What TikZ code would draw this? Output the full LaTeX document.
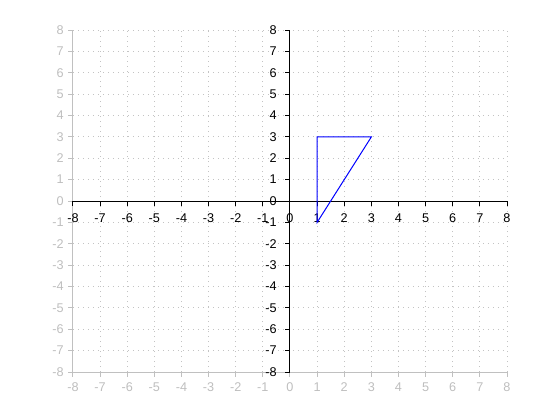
\documentclass[tikz,border=0pt]{standalone}
\usepackage{fontspec}
\setmainfont{Liberation Sans}
\definecolor{gridgray}{RGB}{195,195,195}
\definecolor{axgray}{RGB}{192,192,192}
\definecolor{lblgray}{RGB}{190,190,190}
\definecolor{plotblue}{RGB}{0,0,255}
\begin{document}
\begin{tikzpicture}[x=20.344pt,y=16.031pt,
  font=\fontsize{9.5}{10}\selectfont,
  gridline/.style={draw=gridgray, line width=0.75pt, dash pattern=on 0.75pt off 3pt},
  grayaxis/.style={draw=axgray, line width=0.75pt},
  blackaxis/.style={draw=black, line width=0.75pt},
  graylbl/.style={text=lblgray, inner sep=0pt},
  blacklbl/.style={text=black, inner sep=0pt},
  curve/.style={draw=plotblue, line width=0.75pt}]
\useasboundingbox (-10.691,-10.199) rectangle (9.954,9.404);
% dotted grid
\foreach \i in {-7,...,8} {
  \draw[gridline] (\i,-8) -- (\i,8);
  \draw[gridline] (-8,\i) -- (8,\i);
}
% gray frame axes (left and bottom)
\draw[grayaxis] (-8,-8) -- (-8,8);
\draw[grayaxis] (-8,-8) -- (8,-8);
\foreach \i in {-8,...,8} {
  \draw[grayaxis] (-8,\i) -- ++(-3.75pt,0);
  \draw[grayaxis] (\i,-8) -- ++(0,-3.75pt);
  \node[graylbl, anchor=east] (gy\i) at ([xshift=-6.75pt]-8,\i) {\i};
  \node[graylbl] (gx\i) at ([yshift=-11.25pt]\i,-8) {\i};
}
% black centre axes
\draw[blackaxis] (-8,0) -- (8,0);
\draw[blackaxis] (0,-8) -- (0,8);
\foreach \i in {-8,...,8} {
  \draw[blackaxis] (\i,0) -- ++(0,-3.75pt);
  \draw[blackaxis] (0,\i) -- ++(-3.75pt,0);
  \node[blacklbl, anchor=east] (by\i) at ([xshift=-9.75pt]0,\i) {\i};
  \node[blacklbl] (bx\i) at ([yshift=-13pt]\i,0) {\i};
}
% triangle
\coordinate (A) at (1,-1);
\coordinate (B) at (1,3);
\coordinate (C) at (3,3);
\draw[curve] (A) -- (B) -- (C) -- cycle;
\end{tikzpicture}
\end{document}
